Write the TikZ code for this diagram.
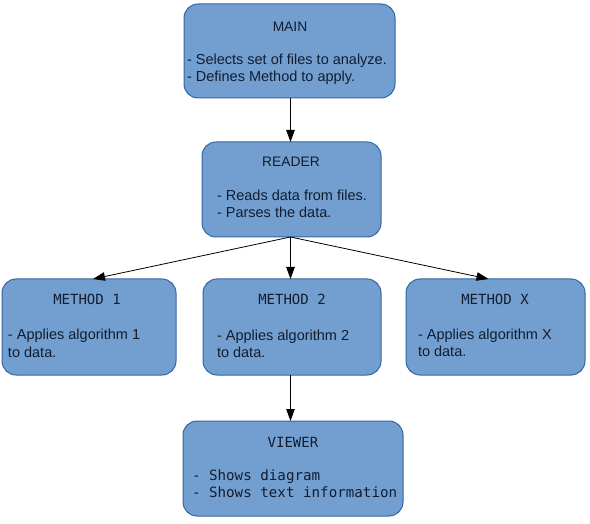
\documentclass[tikz,border=0pt]{standalone}
\usepackage{fontspec}
\setmainfont{Liberation Sans}
\setmonofont{DejaVu Sans Mono}
\usetikzlibrary{arrows.meta}
\definecolor{boxfill}{HTML}{729FCF}
\definecolor{boxline}{HTML}{3465A4}
\definecolor{txt}{HTML}{121D30}
\tikzset{
  box/.style={draw=boxline, fill=boxfill, line width=1pt, rounded corners=14pt,
    inner sep=0pt, outer sep=0pt},
  body/.style={inner sep=0pt, outer sep=0pt, anchor=base west, text=txt,
    font=\fontsize{14.5}{17}\selectfont},
  sanstitle/.style={inner sep=0pt, outer sep=0pt, anchor=base, text=txt,
    font=\fontsize{13.8}{16}\selectfont},
  monotitle/.style={inner sep=0pt, outer sep=0pt, anchor=base, text=txt,
    font=\ttfamily\fontsize{14}{17}\selectfont},
  monobody/.style={inner sep=0pt, outer sep=0pt, anchor=base west, text=txt,
    font=\ttfamily\fontsize{14.2}{17}\selectfont},
  conn/.style={draw=black, line width=0.8pt, -{Triangle[length=12pt,width=8.5pt]}}
}
\begin{document}
\begin{tikzpicture}[x=1pt,y=-1pt]
\useasboundingbox (0,0) rectangle (590,524);
% boxes
\node[box, minimum width=211pt, minimum height=94pt] (main) at (289.5,51) {};
\node[box, minimum width=179pt, minimum height=95pt] (reader) at (291.5,189.5) {};
\node[box, minimum width=174pt, minimum height=96pt] (m1) at (89,327) {};
\node[box, minimum width=178pt, minimum height=96pt] (m2) at (292,327) {};
\node[box, minimum width=179pt, minimum height=96pt] (mx) at (495.5,327) {};
\node[box, minimum width=220pt, minimum height=95pt] (viewer) at (293,468.5) {};
% texts
\node[sanstitle] (mainT) at (290,32) {MAIN};
\node[body] (mainA) at (187,64.5) {- Selects set of files to analyze.};
\node[body] (mainB) at (187,82) {- Defines Method to apply.};
\node[sanstitle] (readerT) at (291,167) {READER};
\node[body] (readerA) at (217,201) {- Reads data from files.};
\node[body] (readerB) at (217,218) {- Parses the data.};
\node[monotitle] (m1T) at (87,305) {METHOD 1};
\node[body] (m1A) at (8,340) {- Applies algorithm 1};
\node[body] (m1B) at (8,357) {to data.};
\node[monotitle] (m2T) at (292,305) {METHOD 2};
\node[body] (m2A) at (217,341) {- Applies algorithm 2};
\node[body] (m2B) at (217,357.5) {to data.};
\node[monotitle] (mxT) at (495,305) {METHOD X};
\node[body] (mxA) at (418,340) {- Applies algorithm X};
\node[body] (mxB) at (418,356.5) {to data.};
\node[monotitle] (viewerT) at (293,447) {VIEWER};
\node[monobody] (viewerA) at (192,480) {- Shows diagram};
\node[monobody] (viewerB) at (192,497) {- Shows text information};
% connectors
\coordinate (rs) at ([xshift=-1pt]reader.south);
\coordinate (m1tip) at ([xshift=4pt]m1.north);
\coordinate (mxtip) at ([xshift=-7pt]mx.north);
\draw[conn] ([xshift=1pt]main.south) -- ([xshift=1pt]main.south |- reader.north);
\draw[conn] (rs) -- (m1tip);
\draw[conn] (rs) -- (rs |- m2.north);
\draw[conn] (rs) -- (mxtip);
\draw[conn] ([xshift=-1.5pt]m2.south) -- ([xshift=-1.5pt]m2.south |- viewer.north);
\end{tikzpicture}
\end{document}
